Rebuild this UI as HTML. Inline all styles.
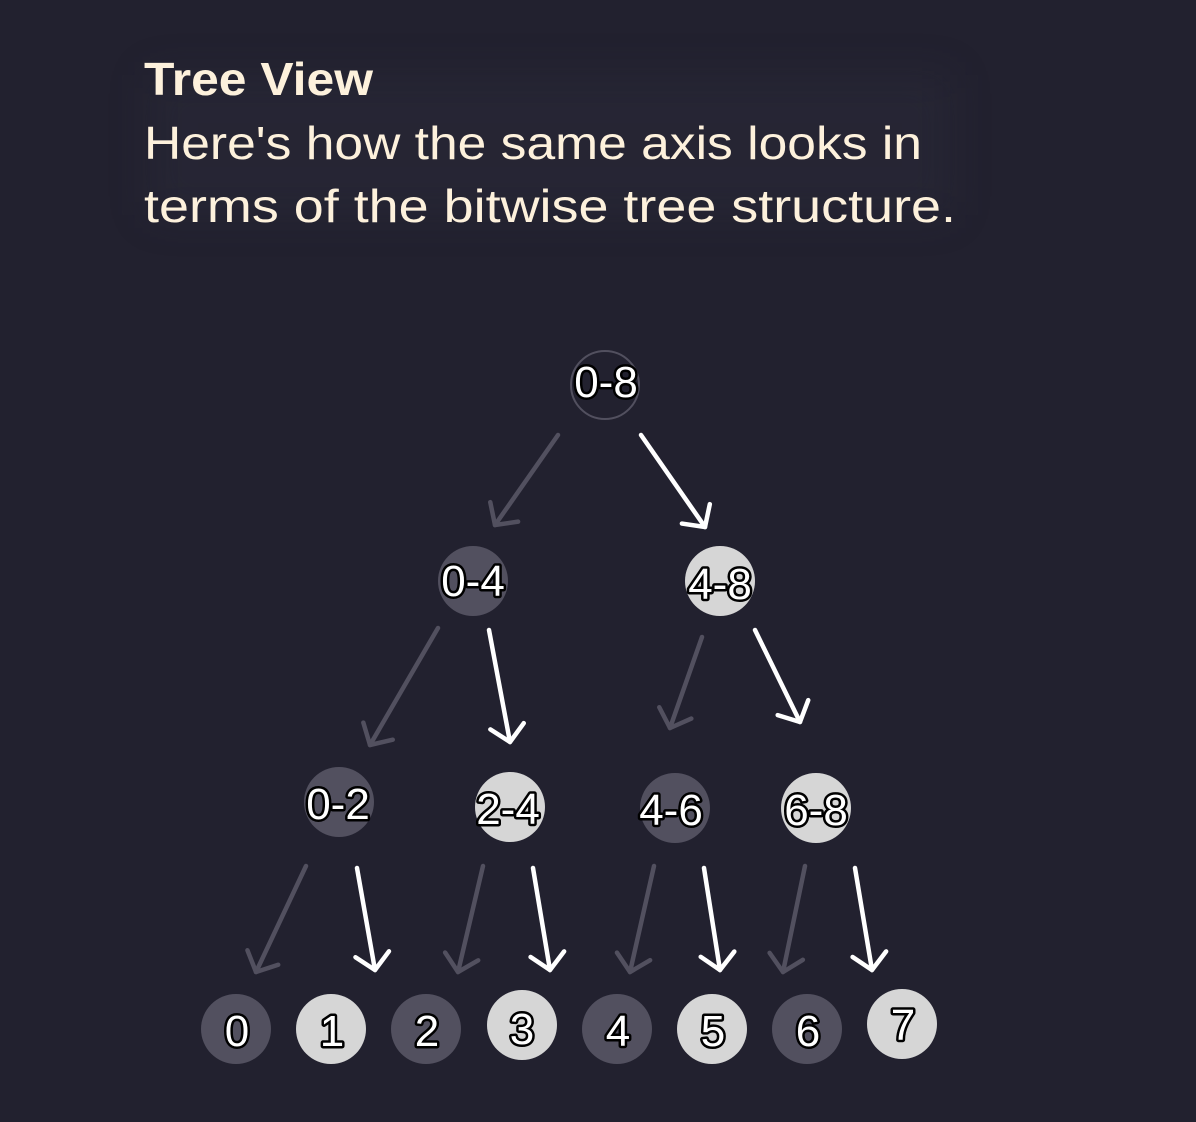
<!DOCTYPE html>
<html><head><meta charset="utf-8"><style>
html,body{margin:0;padding:0;background:#22212f;}
svg{display:block}
.t{font-family:"Liberation Sans",sans-serif;fill:#fdf1dc;}
.l{font-family:"Liberation Sans",sans-serif;font-size:44px;fill:#fff;stroke:#000;stroke-width:5px;stroke-linejoin:round;paint-order:stroke;text-anchor:middle;}
</style></head><body>
<svg width="1196" height="1122" viewBox="0 0 1196 1122" xmlns="http://www.w3.org/2000/svg">
<defs>
<filter id="g" x="-20%" y="-50%" width="140%" height="200%"><feGaussianBlur stdDeviation="20"/></filter>
<marker id="mw" markerUnits="userSpaceOnUse" markerWidth="40" markerHeight="40" refX="20" refY="20" orient="auto" viewBox="0 0 40 40"><path d="M4,3 L20,20 L4,37" fill="none" stroke="#fff" stroke-width="4.5" stroke-linecap="round" stroke-linejoin="round"/></marker>
<marker id="mg" markerUnits="userSpaceOnUse" markerWidth="40" markerHeight="40" refX="20" refY="20" orient="auto" viewBox="0 0 40 40"><path d="M4,3 L20,20 L4,37" fill="none" stroke="#52505f" stroke-width="4.5" stroke-linecap="round" stroke-linejoin="round"/></marker>
</defs>
<rect width="1196" height="1122" fill="#22212f"/>
<rect x="150" y="75" width="800" height="140" fill="#2e2d3d" opacity="0.35" filter="url(#g)"/>
<text class="t" x="144" y="95" font-size="46" font-weight="bold" textLength="229" lengthAdjust="spacingAndGlyphs">Tree View</text>
<text class="t" x="144" y="159" font-size="46" textLength="778" lengthAdjust="spacingAndGlyphs">Here's how the same axis looks in</text>
<text class="t" x="144" y="222" font-size="46" textLength="812" lengthAdjust="spacingAndGlyphs">terms of the bitwise tree structure.</text>

<g stroke-width="4.5" stroke-linecap="round" fill="none">
<line x1="558" y1="435" x2="495" y2="525" stroke="#52505f" marker-end="url(#mg)"/>
<line x1="641" y1="435" x2="705" y2="527" stroke="#fff" marker-end="url(#mw)"/>
<line x1="438" y1="628" x2="370" y2="745" stroke="#52505f" marker-end="url(#mg)"/>
<line x1="489" y1="630" x2="510" y2="742" stroke="#fff" marker-end="url(#mw)"/>
<line x1="702" y1="637" x2="670" y2="728" stroke="#52505f" marker-end="url(#mg)"/>
<line x1="755" y1="630" x2="800" y2="722" stroke="#fff" marker-end="url(#mw)"/>
<line x1="306" y1="866" x2="256" y2="972" stroke="#52505f" marker-end="url(#mg)"/>
<line x1="357" y1="868" x2="375" y2="970" stroke="#fff" marker-end="url(#mw)"/>
<line x1="483" y1="866" x2="458" y2="972" stroke="#52505f" marker-end="url(#mg)"/>
<line x1="533" y1="868" x2="550" y2="970" stroke="#fff" marker-end="url(#mw)"/>
<line x1="654" y1="866" x2="630" y2="972" stroke="#52505f" marker-end="url(#mg)"/>
<line x1="704" y1="868" x2="720" y2="970" stroke="#fff" marker-end="url(#mw)"/>
<line x1="805" y1="866" x2="783" y2="972" stroke="#52505f" marker-end="url(#mg)"/>
<line x1="855" y1="868" x2="872" y2="970" stroke="#fff" marker-end="url(#mw)"/>
</g>

<circle cx="605" cy="385" r="34" fill="none" stroke="#52505f" stroke-width="2"/>
<circle cx="473" cy="581" r="35" fill="#52505f"/>
<circle cx="720" cy="581" r="35" fill="#d6d6d6"/>
<circle cx="339" cy="802" r="35" fill="#52505f"/>
<circle cx="510" cy="807" r="35" fill="#d6d6d6"/>
<circle cx="675" cy="808" r="35" fill="#52505f"/>
<circle cx="816" cy="808" r="35" fill="#d6d6d6"/>
<circle cx="236" cy="1029" r="35" fill="#52505f"/>
<circle cx="331" cy="1029" r="35" fill="#d6d6d6"/>
<circle cx="426" cy="1029" r="35" fill="#52505f"/>
<circle cx="522" cy="1025" r="35" fill="#d6d6d6"/>
<circle cx="617" cy="1029" r="35" fill="#52505f"/>
<circle cx="712" cy="1029" r="35" fill="#d6d6d6"/>
<circle cx="807" cy="1029" r="35" fill="#52505f"/>
<circle cx="902" cy="1024" r="35" fill="#d6d6d6"/>

<text class="l" x="606" y="397">0-8</text>
<text class="l" x="473" y="596">0-4</text>
<text class="l" x="720" y="599">4-8</text>
<text class="l" x="338" y="819">0-2</text>
<text class="l" x="508" y="824">2-4</text>
<text class="l" x="671" y="825">4-6</text>
<text class="l" x="816" y="825">6-8</text>
<text class="l" x="237" y="1046">0</text>
<text class="l" x="332" y="1046">1</text>
<text class="l" x="427" y="1046">2</text>
<text class="l" x="522" y="1044">3</text>
<text class="l" x="618" y="1046">4</text>
<text class="l" x="713" y="1046">5</text>
<text class="l" x="808" y="1046">6</text>
<text class="l" x="903" y="1040">7</text>
</svg>
</body></html>
